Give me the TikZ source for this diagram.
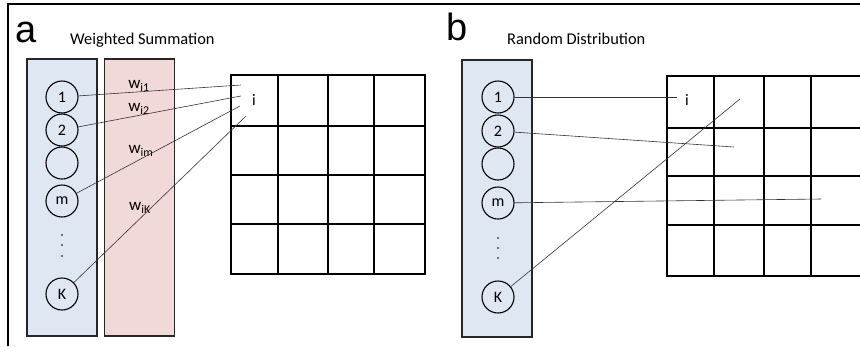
\documentclass[tikz,border=0pt]{standalone}
\usepackage{fontspec}
\setmainfont{Carlito}
\newfontfamily\arialfont{Liberation Sans}
\definecolor{boxblue}{HTML}{DFE7F2}
\definecolor{boxpink}{HTML}{F2D9D9}
\begin{document}
\begin{tikzpicture}[x=1pt,y=-1pt,
  unit/.style={circle, draw=black, line width=1.1pt, minimum size=32pt, inner sep=0pt, font=\fontsize{16}{16}\selectfont},
  layerbox/.style={rectangle, draw=black!85, line width=1.2pt, minimum width=70pt, minimum height=277pt, inner sep=0pt},
  conn/.style={draw=black!80, line width=0.6pt},
  gridline/.style={draw=black, line width=1.4pt},
  panel/.style={font=\arialfont\fontsize{38}{38}\selectfont, inner sep=0pt, anchor=base west},
  title/.style={font=\fontsize{16.4}{16.4}\selectfont, inner sep=0pt, anchor=base west},
  wlab/.style={font=\fontsize{17}{17}\selectfont, inner sep=0pt},
  cell/.style={font=\fontsize{16}{16}\selectfont, inner sep=0pt},
  dot/.style={circle, fill=black, inner sep=0pt, minimum size=1.6pt}]
\useasboundingbox (0,0) rectangle (860,346);
% frame
\draw[line width=1.5pt] (8,346) -- (8,4) -- (860,4);

% ---------- panel a ----------
\node[panel] (la) at (15,42) {a};
\node[title] (ta) at (70,44) {Weighted Summation};
\node[layerbox, fill=boxblue] (inA) at (62,197.5) {};
\node[layerbox, fill=boxpink] (wA) at (139.5,197.5) {};
\node[unit] (a1) at (62,97) {1};
\node[unit] (a2) at (62,130) {2};
\node[unit] (a3) at (62,163) {};
\node[unit] (am) at (62,201) {m};
\node[dot] (ad1) at (62,235) {};
\node[dot] (ad2) at (62,245) {};
\node[dot] (ad3) at (62,256) {};
\node[unit] (aK) at (62,294) {K};
\node[wlab] (w1) at (139,86) {w\textsubscript{i1}};
\node[wlab] (w2) at (139,109) {w\textsubscript{i2}};
\node[wlab] (wm) at (141,151) {w\textsubscript{im}};
\node[wlab] (wK) at (140,208) {w\textsubscript{iK}};
% grid a
\draw[gridline] (231,75) rectangle (425,274);
\foreach \x in {278,328,374} \draw[gridline] (\x,75) -- (\x,274);
\foreach \y in {126,175,224} \draw[gridline] (231,\y) -- (425,\y);
\node[cell] (ia) at (254,100) {i};
\coordinate (pa1) at (241,85);
\coordinate (pa2) at (241,96);
\coordinate (pam) at (240,106);
\coordinate (paK) at (246,116);
\draw[conn] (a1) -- (pa1);
\draw[conn] (a2) -- (pa2);
\draw[conn] (am) -- (pam);
\draw[conn] (aK) -- (paK);

% ---------- panel b ----------
\node[panel] (lb) at (446,40) {b};
\node[title] (tb) at (507,44) {Random Distribution};
\node[layerbox, fill=boxblue] (inB) at (497,198.5) {};
\node[unit] (b1) at (498,97) {1};
\node[unit] (b2) at (498,131) {2};
\node[unit] (b3) at (498,164) {};
\node[unit] (bm) at (498,203) {m};
\node[dot] (bd1) at (498,238) {};
\node[dot] (bd2) at (498,248) {};
\node[dot] (bd3) at (498,258) {};
\node[unit] (bK) at (498,297) {K};
% grid b
\draw[gridline] (860,76) -- (667,76) -- (667,276) -- (860,276);
\foreach \x in {714,764,811} \draw[gridline] (\x,76) -- (\x,276);
\foreach \y in {128,176,225} \draw[gridline] (667,\y) -- (860,\y);
\node[cell] (ib) at (687,100) {i};
\coordinate (pb1) at (677,97);
\coordinate (pb2) at (734,147);
\coordinate (pbm) at (821,199);
\coordinate (pbK) at (740,99);
\draw[conn] (b1) -- (pb1);
\draw[conn] (b2) -- (pb2);
\draw[conn] (bm) -- (pbm);
\draw[conn] (bK) -- (pbK);
\end{tikzpicture}
\end{document}
